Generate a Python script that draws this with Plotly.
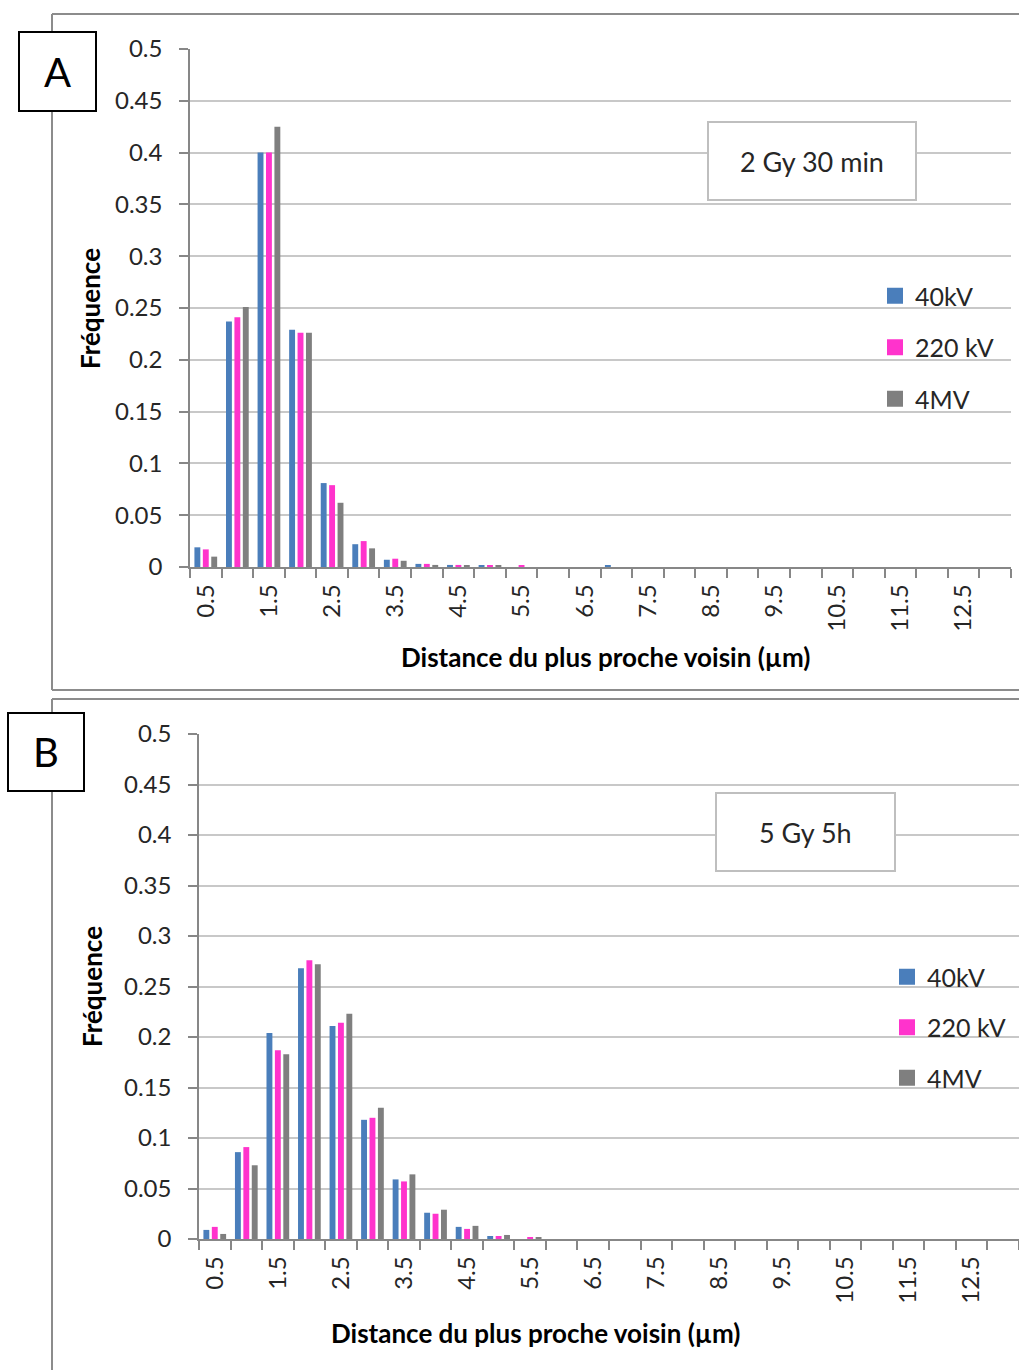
import plotly.graph_objects as go

# ---- data -------------------------------------------------------------
distances = [0.5, 1.0, 1.5, 2.0, 2.5, 3.0, 3.5, 4.0, 4.5, 5.0, 5.5, 6.0, 6.5,
             7.0, 7.5, 8.0, 8.5, 9.0, 9.5, 10.0, 10.5, 11.0, 11.5, 12.0, 12.5, 13.0]
tick_labels = ["0.5", "1.5", "2.5", "3.5", "4.5", "5.5", "6.5",
               "7.5", "8.5", "9.5", "10.5", "11.5", "12.5"]
freq_ticks = [0, 0.05, 0.1, 0.15, 0.2, 0.25, 0.3, 0.35, 0.4, 0.45, 0.5]
freq_tick_labels = ["0", "0.05", "0.1", "0.15", "0.2", "0.25", "0.3",
                    "0.35", "0.4", "0.45", "0.5"]

series_names = ["40kV", "220 kV", "4MV"]

# Panel A : 2 Gy, 30 min
a_40kv = [0.019, 0.237, 0.400, 0.229, 0.081, 0.022, 0.007, 0.003, 0.002, 0.001,
          0, 0, 0, 0.001, 0, 0, 0, 0, 0, 0, 0, 0, 0, 0, 0, 0]
a_220kv = [0.017, 0.241, 0.400, 0.226, 0.079, 0.025, 0.008, 0.003, 0.002, 0.0015,
           0.0015, 0, 0, 0, 0, 0, 0, 0, 0, 0, 0, 0, 0, 0, 0, 0]
a_4mv = [0.010, 0.251, 0.425, 0.226, 0.062, 0.018, 0.006, 0.002, 0.001, 0.001,
         0, 0, 0, 0, 0, 0, 0, 0, 0, 0, 0, 0, 0, 0, 0, 0]

# Panel B : 5 Gy, 5 h
b_40kv = [0.009, 0.086, 0.204, 0.268, 0.211, 0.118, 0.059, 0.026, 0.012, 0.003,
          0, 0, 0, 0, 0, 0, 0, 0, 0, 0, 0, 0, 0, 0, 0, 0]
b_220kv = [0.012, 0.091, 0.187, 0.276, 0.214, 0.120, 0.057, 0.025, 0.010, 0.003,
           0.0017, 0, 0, 0, 0, 0, 0, 0, 0, 0, 0, 0, 0, 0, 0, 0]
b_4mv = [0.005, 0.073, 0.183, 0.272, 0.223, 0.130, 0.064, 0.029, 0.013, 0.004,
         0.0015, 0, 0, 0, 0, 0, 0, 0, 0, 0, 0, 0, 0, 0, 0, 0]

# ---- style ------------------------------------------------------------
W, H = 1019, 1370
FONT = "Lato"
colors = ["#4A7EBB", "#FF33CC", "#7F7F7F"]
axis_gray = "#878787"
grid_gray = "#C8C8C8"
text_col = "#262626"


def fx(px):
    return px / W


def fy(px):
    return 1 - px / H


fig = go.Figure()

panels = [
    ("x", "y", "legend", [a_40kv, a_220kv, a_4mv]),
    ("x2", "y2", "legend2", [b_40kv, b_220kv, b_4mv]),
]
for xa, ya, leg, data in panels:
    for name, col, vals in zip(series_names, colors, data):
        fig.add_trace(go.Bar(x=distances, y=vals, name=name, marker_color=col,
                             marker_line_width=0, xaxis=xa, yaxis=ya,
                             showlegend=False))
    for name, col in zip(series_names, colors):
        fig.add_trace(go.Scatter(x=[None], y=[None], mode="markers", name=name,
                                 marker=dict(symbol="square", size=16, color=col),
                                 xaxis=xa, yaxis=ya, legend=leg,
                                 legendgroup=leg + name, showlegend=True))

bounds = [d - 0.25 for d in distances] + [distances[-1] + 0.25]
label_pos = [float(t) for t in tick_labels]


def xaxis_cfg(domain, anchor):
    return dict(domain=domain, anchor=anchor, range=[0.25, 13.25],
                tickmode="array", tickvals=label_pos, ticktext=tick_labels,
                tickangle=-90, ticks="outside", ticklen=6,
                tickcolor="rgba(0,0,0,0)", ticklabelstandoff=0,
                minor=dict(tickmode="array", tickvals=bounds, ticks="outside",
                           ticklen=9, tickwidth=1.5, tickcolor=axis_gray,
                           showgrid=False),
                showline=True, linecolor=axis_gray, linewidth=1.5,
                showgrid=False, zeroline=False, automargin=False,
                tickfont=dict(family=FONT, size=24, color=text_col))


def yaxis_cfg(domain, anchor):
    return dict(domain=domain, anchor=anchor, range=[0, 0.5],
                tickmode="array", tickvals=freq_ticks, ticktext=freq_tick_labels,
                ticks="outside", ticklen=9, tickwidth=1.5, tickcolor=axis_gray,
                ticklabelstandoff=12,
                showline=True, linecolor=axis_gray, linewidth=1.5,
                showgrid=True, gridcolor=grid_gray, gridwidth=1.5,
                zeroline=False, automargin=False,
                tickfont=dict(family=FONT, size=24, color=text_col))


def legend_cfg(x, y, gap):
    return dict(x=x, y=y, xanchor="left", yanchor="top",
                bgcolor="rgba(255,255,255,0)", borderwidth=0,
                tracegroupgap=gap, itemwidth=30,
                font=dict(family=FONT, size=25, color=text_col))


shapes = []
annotations = []

# panel frames (open on the right side)
frame = dict(type="line", xref="paper", yref="paper",
             line=dict(color="#8C8C8C", width=2))
shapes += [
    dict(frame, x0=fx(52), x1=fx(1019), y0=fy(14), y1=fy(14)),
    dict(frame, x0=fx(52), x1=fx(52), y0=fy(14), y1=fy(690)),
    dict(frame, x0=fx(52), x1=fx(1019), y0=fy(690), y1=fy(690)),
    dict(frame, x0=fx(52), x1=fx(1019), y0=fy(699), y1=fy(699)),
    dict(frame, x0=fx(52), x1=fx(52), y0=fy(699), y1=fy(1370)),
]

# panel letters
for letter, (x0, y0, x1, y1) in [("A", (19, 32, 96, 111)), ("B", (8, 713, 84, 791))]:
    shapes.append(dict(type="rect", xref="paper", yref="paper",
                       x0=fx(x0), x1=fx(x1), y0=fy(y0), y1=fy(y1),
                       fillcolor="white", line=dict(color="black", width=2)))
    annotations.append(dict(text=letter, xref="paper", yref="paper",
                            x=fx((x0 + x1) / 2), y=fy((y0 + y1) / 2),
                            showarrow=False, xanchor="center", yanchor="middle",
                            font=dict(family=FONT, size=40, color="black")))

# condition boxes
for label, (x0, y0, x1, y1) in [("2 Gy 30 min", (708, 122, 916, 200)),
                                ("5 Gy 5h", (716, 793, 895, 871))]:
    shapes.append(dict(type="rect", xref="paper", yref="paper",
                       x0=fx(x0), x1=fx(x1), y0=fy(y0), y1=fy(y1),
                       fillcolor="white", line=dict(color="#BFBFBF", width=2)))
    annotations.append(dict(text=label, xref="paper", yref="paper",
                            x=fx((x0 + x1) / 2), y=fy((y0 + y1) / 2),
                            showarrow=False, xanchor="center", yanchor="middle",
                            font=dict(family=FONT, size=27, color=text_col)))

# axis titles
title_font = dict(family=FONT, size=26, color="black", weight="bold")
x_title = "Distance du plus proche voisin (µm)"
for (tx, ty), (yx, yy) in [((605, 657), (90, 309)), ((535, 1333), (92, 987))]:
    annotations.append(dict(text=x_title, xref="paper", yref="paper",
                            x=fx(tx), y=fy(ty), showarrow=False,
                            xanchor="center", yanchor="middle", font=title_font))
    annotations.append(dict(text="Fréquence", xref="paper", yref="paper",
                            x=fx(yx), y=fy(yy), showarrow=False, textangle=-90,
                            xanchor="center", yanchor="middle", font=title_font))

fig.update_layout(
    width=W, height=H,
    margin=dict(l=0, r=0, t=0, b=0, pad=0, autoexpand=False),
    paper_bgcolor="white", plot_bgcolor="white",
    barmode="group", bargap=0.2, bargroupgap=0.3,
    xaxis=xaxis_cfg([fx(190), fx(1011)], "y"),
    yaxis=yaxis_cfg([fy(567), fy(49)], "x"),
    xaxis2=xaxis_cfg([fx(199), 1.0], "y2"),
    yaxis2=yaxis_cfg([fy(1239), fy(734)], "x2"),
    legend=legend_cfg(fx(875), fy(273), 16),
    legend2=legend_cfg(fx(887), fy(954), 15),
    shapes=shapes,
    annotations=annotations,
    font=dict(family=FONT),
)

fig.write_html("out.html")
